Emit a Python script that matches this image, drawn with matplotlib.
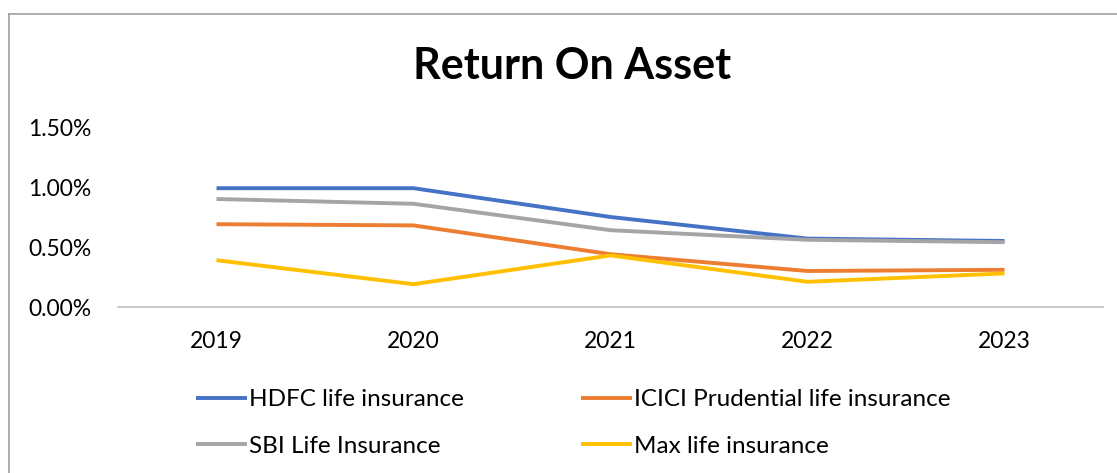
import matplotlib.pyplot as plt
from matplotlib.lines import Line2D
from matplotlib.ticker import FuncFormatter

plt.rcParams['font.family'] = ['Lato', 'DejaVu Sans']

# Chart data (return on asset, in percent)
years = ['2019', '2020', '2021', '2022', '2023']
hdfc = [0.99, 0.99, 0.75, 0.57, 0.55]
icici = [0.69, 0.68, 0.44, 0.30, 0.31]
sbi = [0.90, 0.86, 0.64, 0.56, 0.54]
maxlife = [0.39, 0.19, 0.43, 0.21, 0.28]

series_names = ['HDFC life insurance', 'ICICI Prudential life insurance',
                'SBI Life Insurance', 'Max life insurance']
series_values = [hdfc, icici, sbi, maxlife]
colors = ['#4472C4', '#ED7D31', '#A5A5A5', '#FFC000']

fig = plt.figure(figsize=(11.17, 4.73), dpi=100)
ax = fig.add_axes([118 / 1117, 1 - 307 / 473, 985 / 1117, 180 / 473])

x = list(range(len(years)))
handles = []
for name, vals, c in zip(series_names, series_values, colors):
    h, = ax.plot(x, vals, color=c, linewidth=2.8, label=name,
                 solid_joinstyle='round', solid_capstyle='butt')
    handles.append(h)

ax.set_xlim(-0.5, len(years) - 0.5)
ax.set_ylim(0, 1.5)
ax.set_yticks([0, 0.5, 1.0, 1.5])
ax.yaxis.set_major_formatter(FuncFormatter(lambda v, p: f'{v:.2f}%'))
ax.set_xticks(x)
ax.set_xticklabels(years)
ax.tick_params(axis='both', length=0, labelsize=16.5, colors='#000000')
ax.tick_params(axis='y', pad=19)
ax.tick_params(axis='x', pad=17)

for s in ['top', 'right', 'left']:
    ax.spines[s].set_visible(False)
ax.spines['bottom'].set_color('#BFBFBF')
ax.spines['bottom'].set_linewidth(1.2)

fig.text(572 / 1117, 1 - 66 / 473, 'Return On Asset', ha='center', va='center',
         fontsize=31, fontweight='bold')

# legend order matches the reference: row 1 HDFC, ICICI; row 2 SBI, Max
leg = fig.legend(handles=[handles[0], handles[2], handles[1], handles[3]],
                 labels=[series_names[0], series_names[2], series_names[1], series_names[3]],
                 ncol=2, loc='upper left', bbox_to_anchor=(196 / 1117, 1 - 389 / 473),
                 borderpad=0, borderaxespad=0,
                 frameon=False, fontsize=17.5, handlelength=2.1, handletextpad=0.1,
                 columnspacing=4.8, labelspacing=1.05)

# chart area border (left and top only visible in the crop)
fig.add_artist(Line2D([9.5 / 1117, 9.5 / 1117], [0, 1 - 14 / 473], color='#A0A0A0', linewidth=1.2))
fig.add_artist(Line2D([9.5 / 1117, 1], [1 - 14 / 473, 1 - 14 / 473], color='#A0A0A0', linewidth=1.2))

fig.savefig('out.png', dpi=100)
